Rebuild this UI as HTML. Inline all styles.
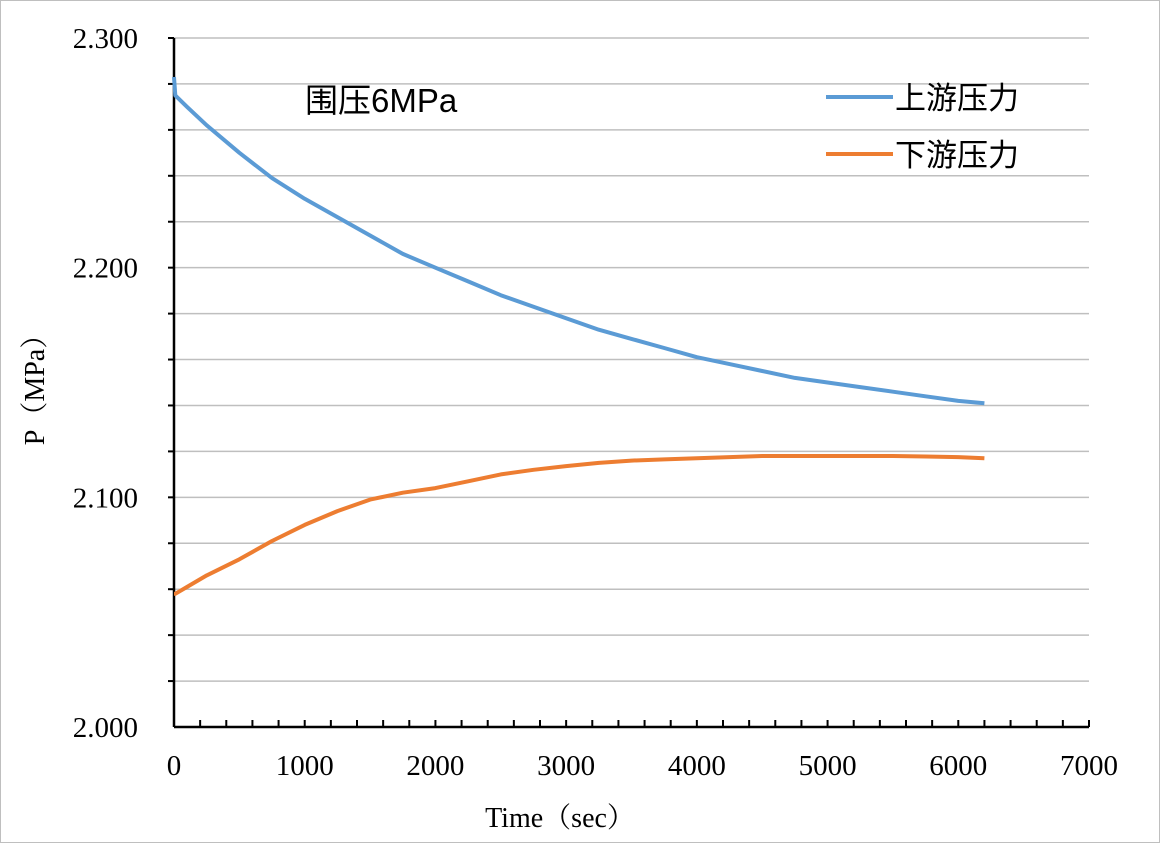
<!DOCTYPE html>
<html><head><meta charset="utf-8"><style>
body{margin:0;background:#fff}
svg{display:block}
text{font-family:"Liberation Serif","Noto Serif CJK SC",serif}
</style></head><body>
<svg id="chart" width="1160" height="843">
<rect x="0.5" y="0.5" width="1159" height="842" fill="#fff" stroke="#bfbfbf"/>
<g id="grid"></g><g id="axes"></g><g id="series"></g>
<text x="305" y="112" font-size="33" style="font-family:'Liberation Sans','Noto Sans CJK SC',sans-serif">围压6MPa</text>
<g>
<line x1="826" y1="97" x2="893" y2="97" stroke="#5b9bd5" stroke-width="4"/>
<text x="895" y="109" font-size="31" style="font-family:'Liberation Sans','Noto Sans CJK SC',sans-serif">上游压力</text>
<line x1="826" y1="154" x2="893" y2="154" stroke="#ed7d31" stroke-width="4"/>
<text x="895" y="166" font-size="31" style="font-family:'Liberation Sans','Noto Sans CJK SC',sans-serif">下游压力</text>
</g>
<text x="560" y="827" font-size="28" text-anchor="middle">Time（sec）</text>
<text transform="translate(44,383) rotate(-90)" font-size="28" text-anchor="middle">P（MPa）</text>
</svg>
<script>
const times=[0,10,100,250,500,750,1000,1250,1500,1750,2000,2250,2500,2750,3000,3250,3500,3750,4000,4250,4500,4750,5000,5250,5500,5750,6000,6200];
const upstream=[2.283,2.275,2.270,2.262,2.250,2.239,2.230,2.222,2.214,2.206,2.200,2.194,2.188,2.183,2.178,2.173,2.169,2.165,2.161,2.158,2.155,2.152,2.150,2.148,2.146,2.144,2.142,2.141];
const downstream=[2.058,2.058,2.061,2.066,2.073,2.081,2.088,2.094,2.099,2.102,2.104,2.107,2.110,2.112,2.1136,2.115,2.116,2.1165,2.117,2.1175,2.118,2.118,2.118,2.118,2.118,2.1178,2.1175,2.117];
const xTicks=[0,1000,2000,3000,4000,5000,6000,7000];
const yTicks=["2.000","2.100","2.200","2.300"];
const NS="http://www.w3.org/2000/svg";
const X0=174,X1=1089,Y0=727,Y1=38;
const xs=t=>X0+(t/7000)*(X1-X0);
const ys=v=>Y0-((v-2.0)/0.3)*(Y0-Y1);
function mk(tag,at,parent){const e=document.createElementNS(NS,tag);for(const k in at)e.setAttribute(k,at[k]);parent.appendChild(e);return e;}
const grid=document.getElementById('grid'),axes=document.getElementById('axes'),series=document.getElementById('series');
for(let i=1;i<=15;i++){const v=2+i*0.02;const y=ys(v);
const g=mk('line',{x1:X0,x2:X1,y1:y,y2:y,stroke:'#bfbfbf','stroke-width':1.5},grid);


const tk=mk('line',{x1:X0-6,x2:X0,y1:y,y2:y,stroke:'#000','stroke-width':2},axes);

}
for(let t=200;t<=7000;t+=200){const x=xs(t);
const tk=mk('line',{x1:x,x2:x,y1:Y0-7,y2:Y0,stroke:'#000','stroke-width':2},axes);

}
const ya=mk('line',{x1:X0,x2:X0,y1:Y1,y2:Y0,stroke:'#000','stroke-width':2.5},axes);


const xa=mk('line',{x1:X0,x2:X1,y1:Y0,y2:Y0,stroke:'#000','stroke-width':2.5},axes);


xTicks.forEach(t=>{const e=mk('text',{x:xs(t),y:Y0+48,'font-size':29,'text-anchor':'middle'},axes);e.textContent=t;

});
yTicks.forEach(s=>{const e=mk('text',{x:X0-36,y:ys(parseFloat(s))+10,'font-size':29,'text-anchor':'end'},axes);e.textContent=s;

});
function draw(vals,color,name){const d=times.map((t,i)=>(i?'L':'M')+xs(t).toFixed(1)+','+ys(vals[i]).toFixed(1)).join('');
const p=mk('path',{d:d,fill:'none',stroke:color,'stroke-width':4,'stroke-linejoin':'round'},series);

}
draw(upstream,'#5b9bd5','upstream-pressure-line');
draw(downstream,'#ed7d31','downstream-pressure-line');
</script>
</body></html>
